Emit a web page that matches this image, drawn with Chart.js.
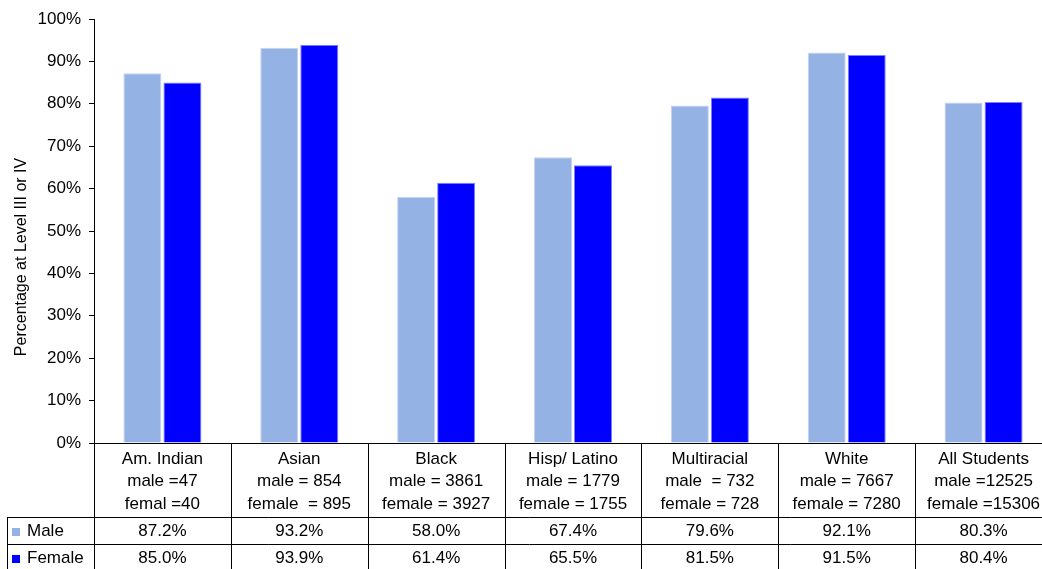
<!DOCTYPE html>
<html>
<head>
<meta charset="utf-8">
<script src="https://cdn.jsdelivr.net/npm/chart.js@4/dist/chart.umd.min.js"></script>
<style>
  html, body { margin: 0; padding: 0; overflow: hidden; background: #fff; }
  canvas { display: block; }
</style>
</head>
<body>
<canvas id="chart" width="1052" height="569"></canvas>
<script>
// Student groups and headcounts shown in the table header
const groups = ['Am. Indian', 'Asian', 'Black', 'Hisp/ Latino', 'Multiracial', 'White', 'All Students'];
const maleCounts = ['male =47', 'male = 854', 'male = 3861', 'male = 1779', 'male  = 732', 'male = 7667', 'male =12525'];
const femaleCounts = ['femal =40', 'female  = 895', 'female = 3927', 'female = 1755', 'female = 728', 'female = 7280', 'female =15306'];

// Percentage at Level III or IV
const maleValues = [87.2, 93.2, 58.0, 67.4, 79.6, 92.1, 80.3];
const femaleValues = [85.0, 93.9, 61.4, 65.5, 81.5, 91.5, 80.4];

const yTickValues = [0, 10, 20, 30, 40, 50, 60, 70, 80, 90, 100];
const yAxisTitle = 'Percentage at Level III or IV';

const MALE_COLOR = '#95B2E4';
const FEMALE_COLOR = '#0000FF';
const FONT = '"Liberation Sans", Arial, sans-serif';

// Draws the data table under the plot, aligned to the category scale
const dataTable = {
  id: 'dataTable',
  afterDraw(chart) {
    const { ctx, chartArea: area, scales: { x } } = chart;
    const n = groups.length;
    const colW = x.getPixelForValue(1) - x.getPixelForValue(0);
    const left = x.getPixelForValue(0) - colW / 2;
    const top = area.bottom;
    const headerBottom = top + 74;
    const maleBottom = headerBottom + 27;
    const femaleBottom = maleBottom + 27;
    const legendLeft = 7;
    const right = left + n * colW;

    ctx.save();
    ctx.strokeStyle = '#000';
    ctx.lineWidth = 1;
    ctx.beginPath();
    for (let i = 0; i <= n; i++) {
      const xx = Math.round(left + i * colW) + 0.5;
      ctx.moveTo(xx, top);
      ctx.lineTo(xx, femaleBottom);
    }
    ctx.moveTo(legendLeft + 0.5, headerBottom);
    ctx.lineTo(legendLeft + 0.5, femaleBottom);
    [headerBottom, maleBottom, femaleBottom].forEach(yy => {
      ctx.moveTo(legendLeft, Math.round(yy) + 0.5);
      ctx.lineTo(right, Math.round(yy) + 0.5);
    });
    ctx.stroke();

    ctx.fillStyle = '#000';
    ctx.font = '17px ' + FONT;
    ctx.textAlign = 'center';
    ctx.textBaseline = 'middle';
    for (let i = 0; i < n; i++) {
      const cx = x.getPixelForValue(i);
      ctx.fillText(groups[i], cx, top + 16);
      ctx.fillText(maleCounts[i], cx, top + 38.5);
      ctx.fillText(femaleCounts[i], cx, top + 61);
      ctx.fillText(maleValues[i].toFixed(1) + '%', cx, headerBottom + 14.5);
      ctx.fillText(femaleValues[i].toFixed(1) + '%', cx, maleBottom + 14.5);
    }

    // legend keys in the first column
    ctx.textAlign = 'left';
    const rows = [
      { label: chart.data.datasets[0].label, color: MALE_COLOR, y: headerBottom + 14.5 },
      { label: chart.data.datasets[1].label, color: FEMALE_COLOR, y: maleBottom + 14.5 }
    ];
    rows.forEach(r => {
      ctx.fillStyle = r.color;
      ctx.fillRect(12, Math.round(r.y) - 4, 8, 8);
      ctx.fillStyle = '#000';
      ctx.fillText(r.label, 27, r.y);
    });

    // rotated y-axis title
    ctx.save();
    ctx.translate(22, 257);
    ctx.rotate(-Math.PI / 2);
    ctx.textAlign = 'center';
    ctx.font = '16px ' + FONT;
    ctx.fillText(yAxisTitle, 0, 0);
    ctx.restore();

    ctx.restore();
  }
};

new Chart(document.getElementById('chart'), {
  type: 'bar',
  data: {
    labels: groups,
    datasets: [
      {
        label: 'Male',
        data: maleValues,
        backgroundColor: MALE_COLOR,
        borderColor: '#C4D3F1',
        borderWidth: 1,
        categoryPercentage: 0.585,
        barPercentage: 0.95
      },
      {
        label: 'Female',
        data: femaleValues,
        backgroundColor: FEMALE_COLOR,
        borderColor: '#8080FF',
        borderWidth: 1,
        categoryPercentage: 0.585,
        barPercentage: 0.95
      }
    ]
  },
  options: {
    responsive: false,
    animation: false,
    devicePixelRatio: 1,
    layout: { padding: { top: 19, left: 0, right: 0, bottom: 0 } },
    plugins: {
      legend: { display: false },
      tooltip: { enabled: false }
    },
    scales: {
      x: {
        grid: { display: false },
        border: { display: true, color: '#000', width: 1 },
        ticks: { display: false },
        afterFit(scale) { scale.height = 126; }
      },
      y: {
        min: 0,
        max: 100,
        afterBuildTicks(scale) { scale.ticks = yTickValues.map(v => ({ value: v })); },
        grid: { drawOnChartArea: false, drawTicks: true, tickLength: 5, color: '#000' },
        border: { display: true, color: '#000', width: 1 },
        ticks: {
          color: '#000',
          padding: 8,
          font: { family: FONT, size: 17 },
          callback: v => v + '%'
        },
        afterFit(scale) { scale.width = 94; }
      }
    }
  },
  plugins: [dataTable]
});
</script>
</body>
</html>
